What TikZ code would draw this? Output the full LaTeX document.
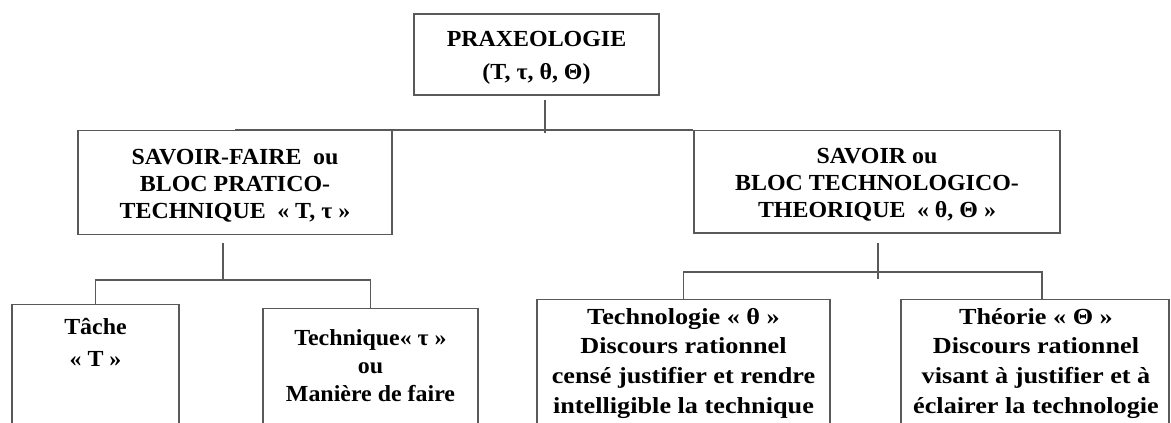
\documentclass[tikz,border=0pt]{standalone}
\usepackage{fontspec}
\setmainfont{Liberation Serif}[FakeStretch=1.04]
\newfontfamily\widefont{Liberation Serif}[FakeStretch=1.14]
\definecolor{linec}{gray}{0.35}
\begin{document}
\begin{tikzpicture}[x=1pt,y=1pt,
  box/.style={draw=linec, line width=1.4pt, rectangle, inner sep=0pt},
  txt/.style={align=center, inner sep=0pt, font=\bfseries\fontsize{23}{#1}\selectfont},
  txt/.default=27,
  wtxt/.style={align=center, inner sep=0pt, font=\widefont\bfseries\fontsize{23}{#1}\selectfont},
  conn/.style={draw=linec, line width=1.4pt}]
\useasboundingbox (0,0) rectangle (1171,-423);
\clip (0,0) rectangle (1171,-423);
% upper boxes
\node[box, minimum width=245pt, minimum height=81pt] (prax) at (536.5,-54.5) {};
\node[txt=33] (praxt) at (536.5,-57.5) {PRAXEOLOGIE\\(T, τ, θ, Θ)};
\node[box, minimum width=314pt, minimum height=104pt] (sf) at (235,-182.5) {};
\node[txt=27] (sft) at (235,-185.5)
  {SAVOIR-FAIRE\enspace ou\\BLOC PRATICO-\\TECHNIQUE\enspace « T, τ »};
\node[box, minimum width=366pt, minimum height=102.5pt] (sv) at (877,-181.75) {};
\node[txt=27] (svt) at (877,-184.5)
  {SAVOIR ou\\BLOC TECHNOLOGICO-\\THEORIQUE\enspace « θ, Θ »};
% lower boxes
\node[box, anchor=north, minimum width=167pt, minimum height=160pt] (tache) at (95.5,-304) {};
\node[txt=32, anchor=north] (tachet) at (95.5,-318) {Tâche\\« T »};
\node[box, anchor=north, minimum width=215pt, minimum height=160pt] (tech) at (370.5,-308) {};
\node[txt=28, anchor=north] (techt) at (370.5,-329) {Technique« τ »\\ou\\Manière de faire};
\node[box, anchor=north, minimum width=293pt, minimum height=160pt] (techno) at (683.5,-299) {};
\node[wtxt=29.7, anchor=north] (technot) at (683.5,-308)
  {Technologie « θ »\\Discours rationnel\\censé justifier et rendre\\intelligible la technique};
\node[box, anchor=north, minimum width=268pt, minimum height=160pt] (theo) at (1035,-299) {};
\node[wtxt=29.7, anchor=north] (theot) at (1036,-308)
  {Théorie « Θ »\\Discours rationnel\\visant à justifier et à\\éclairer la technologie};
% connectors top
\coordinate (t1) at (545,-100);
\coordinate (t2) at (545,-133);
\draw[conn] (t1) -- (t2);
\draw[conn] (sf.north) -- (sf.north -| sv.west);
% connectors left
\coordinate (l1) at (223,-243);
\coordinate (l2) at (223,-280);
\draw[conn] (l1) -- (l2);
\draw[conn] (tache.north) -- (tache.north |- l2) -- (tech.north |- l2) -- (tech.north);
% connectors right
\coordinate (r1) at (878,-243);
\coordinate (r2) at (878,-279);
\coordinate (rh) at (878,-272);
\coordinate (rr) at (1042,-299);
\draw[conn] (r1) -- (r2);
\draw[conn] (techno.north) -- (techno.north |- rh) -- (rr |- rh) -- (rr);
\end{tikzpicture}
\end{document}
